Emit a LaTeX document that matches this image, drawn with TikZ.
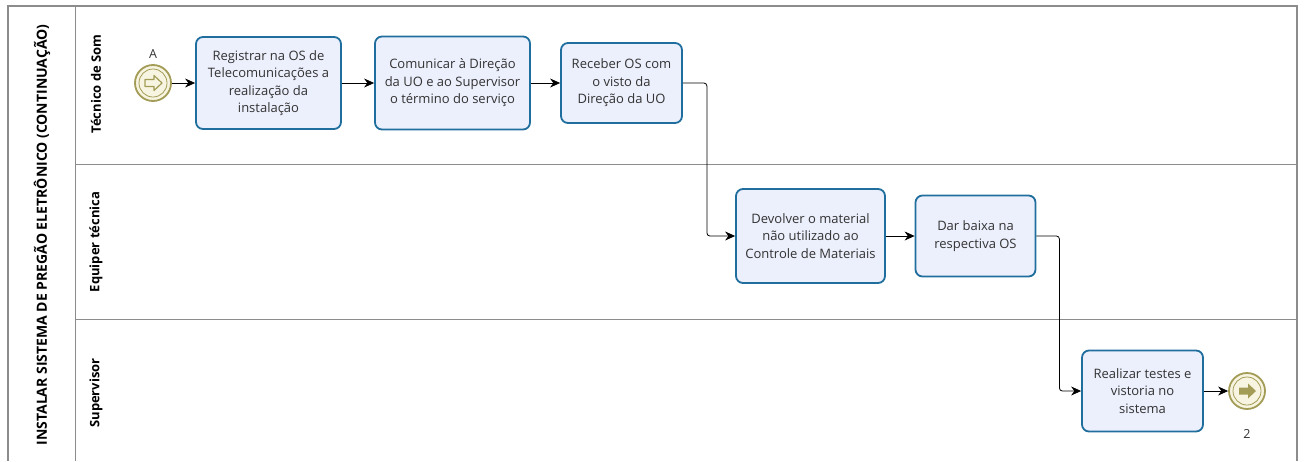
\documentclass[tikz,border=0pt]{standalone}
\usepackage{fontspec}
\setmainfont{Open Sans}
\usetikzlibrary{positioning, arrows.meta}

\definecolor{taskfill}{HTML}{ECEFFC}
\definecolor{taskline}{HTML}{1F6E9E}
\definecolor{eventline}{HTML}{A39C57}
\definecolor{eventfill}{HTML}{F7F5E1}
\definecolor{poolline}{HTML}{8C8C8C}
\definecolor{txtgray}{HTML}{333333}

\tikzset{
    task/.style={draw=taskline, fill=taskfill, line width=1.8pt, rounded corners=7pt,
        align=center, text=txtgray, inner sep=1pt, font=\fontsize{13}{17.5}\selectfont},
    linkevent/.style={circle, draw=eventline, fill=eventfill, line width=1.8pt,
        minimum size=36pt, inner sep=0pt},
    lanelabel/.style={rotate=90, font=\bfseries\fontsize{13}{14}\selectfont, text=black},
    flow/.style={draw=black, line width=0.8pt, rounded corners=3pt,
        -{Stealth[length=10pt, width=9pt]}},
    pool/.style={draw=poolline, line width=1.6pt},
    lane/.style={draw=poolline, line width=1pt}
}

\begin{document}
\begin{tikzpicture}[x=1pt, y=-1pt]
    \useasboundingbox (0,0) rectangle (1305,461);

    % pool and lanes
    \draw[pool] (8,461) -- (8,6) -- (1297,6) -- (1297,461);
    \draw[lane] (75,6) -- (75,461);
    \draw[lane] (75,164) -- (1297,164);
    \draw[lane] (75,319) -- (1297,319);

    \node[lanelabel, font=\bfseries\fontsize{14}{15}\selectfont] (pooltitle) at (42,235)
        {INSTALAR SISTEMA DE PREGÃO ELETRÔNICO (CONTINUAÇÃO)};
    \node[lanelabel] (lanesom) at (96,84) {Técnico de Som};
    \node[lanelabel] (laneequipe) at (96,242) {Equiper técnica};
    \node[lanelabel] (lanesup) at (96,393) {Supervisor};

    % events
    \node[linkevent, label={[text=txtgray, font=\fontsize{12.5}{13}\selectfont, label distance=2pt]above:A}] (startA) at (153,83) {};
    \draw[eventline, line width=0.8pt] (startA) circle (14);
    \draw[eventline, line width=1.2pt, line join=round, shift={(startA.center)}]
        (-8,-3.5) -- (1,-3.5) -- (1,-7.5) -- (9,0) -- (1,7.5) -- (1,3.5) -- (-8,3.5) -- cycle;

    \node[linkevent, label={[text=txtgray, font=\fontsize{12.5}{13}\selectfont, label distance=16pt]below:2}] (end2) at (1247,391) {};
    \draw[eventline, line width=0.8pt] (end2) circle (14);
    \fill[eventline, shift={(end2.center)}]
        (-8,-3.5) -- (1,-3.5) -- (1,-7.5) -- (9,0) -- (1,7.5) -- (1,3.5) -- (-8,3.5) -- cycle;

    % tasks
    \node[task, minimum width=145pt, minimum height=92pt] (registrar) at (268.5,83)
        {Registrar na OS de\\Telecomunicações a\\realização da\\instalação};
    \node[task, minimum width=155pt, minimum height=93pt] (comunicar) at (452.5,83)
        {Comunicar à Direção\\da UO e ao Supervisor\\o término do serviço};
    \node[task, minimum width=121pt, minimum height=80pt] (receber) at (621.5,83)
        {Receber OS com\\o visto da\\Direção da UO};
    \node[task, minimum width=149pt, minimum height=94pt] (devolver) at (810.5,236)
        {Devolver o material\\não utilizado ao\\Controle de Materiais};
    \node[task, minimum width=120pt, minimum height=81pt] (baixa) at (975.5,236)
        {Dar baixa na\\respectiva OS};
    \node[task, minimum width=121pt, minimum height=81pt] (testes) at (1142.5,391)
        {Realizar testes e\\vistoria no\\sistema};

    % sequence flows
    \draw[flow] (startA) -- (registrar);
    \draw[flow] (registrar) -- (comunicar);
    \draw[flow] (comunicar) -- (receber);
    \draw[flow] (receber.east) -- ++(24,0) |- (devolver.west);
    \draw[flow] (devolver) -- (baixa);
    \draw[flow] (baixa.east) -- ++(23,0) |- (testes.west);
    \draw[flow] (testes) -- (end2);
\end{tikzpicture}
\end{document}
